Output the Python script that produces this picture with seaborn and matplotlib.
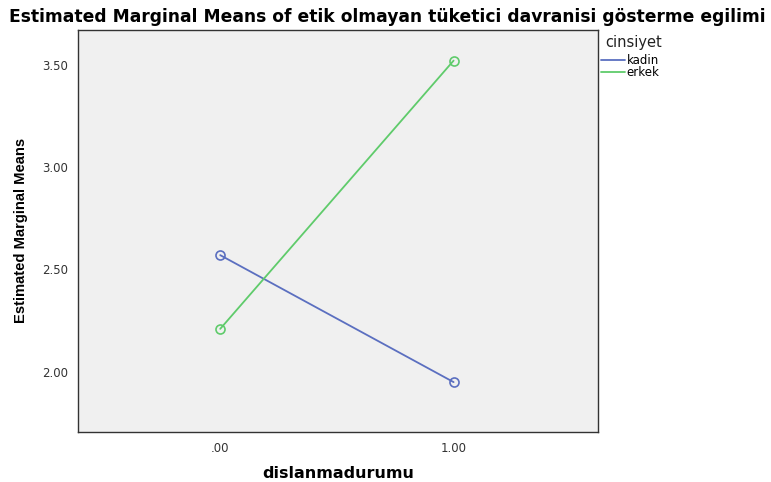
import pandas as pd
import matplotlib.pyplot as plt
import seaborn as sns

# Estimated marginal means
groups = ["kadin", "erkek"]
x_levels = [0.0, 1.0]
kadin_means = [2.57, 1.95]
erkek_means = [2.21, 3.52]
x_ticklabels = [".00", "1.00"]
y_ticks = [2.0, 2.5, 3.0, 3.5]
y_ticklabels = ["2.00", "2.50", "3.00", "3.50"]
colors = {"kadin": "#5b6fc0", "erkek": "#5fcb6b"}

df = pd.DataFrame({
    "dislanmadurumu": x_levels * 2,
    "emm": kadin_means + erkek_means,
    "cinsiyet": [groups[0]] * 2 + [groups[1]] * 2,
})

sns.set_style("white")
plt.rcParams["font.family"] = ["DejaVu Sans"]
plt.rcParams["text.color"] = "black"
plt.rcParams["axes.labelcolor"] = "black"

W, H = 771, 482
fig = plt.figure(figsize=(W / 100, H / 100), dpi=100)
ax = fig.add_axes([0.101, 0.104, 0.675, 0.834])
ax.set_facecolor("#f0f0f0")

sns.lineplot(data=df, x="dislanmadurumu", y="emm", hue="cinsiyet",
             hue_order=groups, palette=colors, marker="o", markersize=6.5,
             linewidth=1.3, ax=ax, legend=False)
for line in ax.lines:
    c = line.get_color()
    line.set_markerfacecolor("none")
    line.set_markeredgecolor(c)
    line.set_markeredgewidth(1.2)

ax.set_xlim(-0.61, 1.62)
ax.set_ylim(1.707, 3.67)
ax.set_xticks(x_levels)
ax.set_xticklabels(x_ticklabels)
ax.set_yticks(y_ticks)
ax.set_yticklabels(y_ticklabels)
ax.tick_params(axis="both", direction="out", length=5, width=1, color="#333333",
               labelsize=8.5, labelcolor="#333333", pad=2)
for s in ax.spines.values():
    s.set_color("#333333")
    s.set_linewidth(1)

ax.set_xlabel("dislanmadurumu", fontsize=11.5, fontweight="bold", labelpad=8)
ax.set_ylabel("Estimated Marginal Means", fontsize=10.6, fontweight="bold",
              labelpad=10, family=["Liberation Sans Narrow", "Liberation Sans"])
fig.suptitle("Estimated Marginal Means of etik olmayan tüketici davranisi gösterme egilimi",
             x=0.502, y=0.984, fontsize=12.35, fontweight="bold")

# legend title placed on its own, entries below it
fig.text(605 / W, 1 - 43 / H, "cinsiyet", fontsize=10.5, va="center", ha="left",
         color="#222222")
handles = [plt.Line2D([], [], color=colors[g], linewidth=1.3) for g in groups]
leg = fig.legend(handles, groups, loc="upper left",
                 bbox_to_anchor=(601 / W, 1 - 54 / H), frameon=False, fontsize=8.5,
                 handlelength=2.0, handletextpad=0.15,
                 labelspacing=-0.05, borderaxespad=0, borderpad=0)

fig.savefig("out.png", dpi=100)
plt.close()
